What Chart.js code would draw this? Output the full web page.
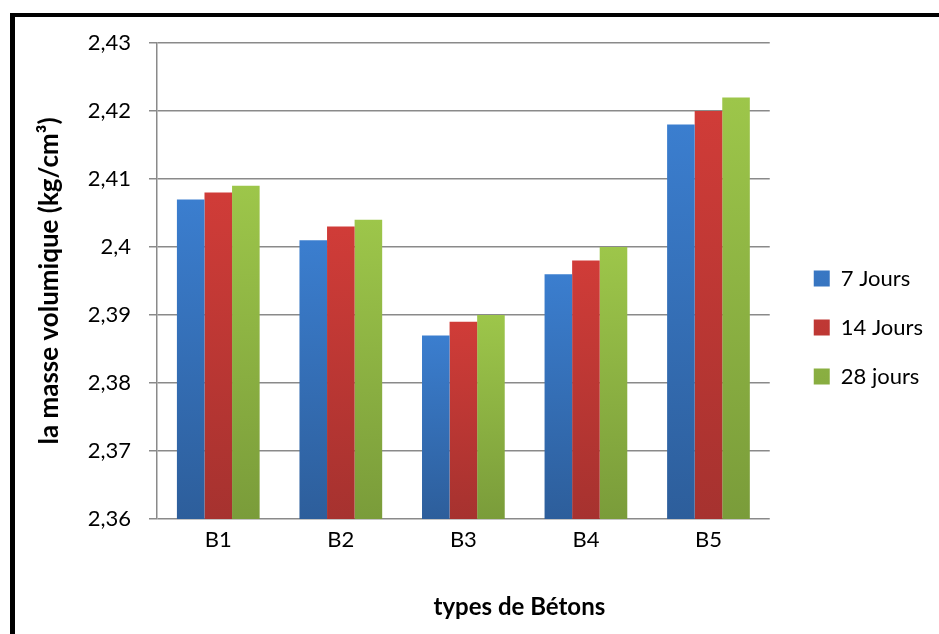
<!DOCTYPE html>
<html>
<head>
<meta charset="utf-8">
<script src="https://cdn.jsdelivr.net/npm/chart.js@4.4.1/dist/chart.umd.min.js"></script>
<style>
  html, body { margin: 0; padding: 0; background: #fff; overflow: hidden; }
  #frame { position: absolute; left: 10px; top: 13px; width: 960px; height: 660px;
           border-top: 4px solid #000; border-left: 5px solid #000; }
  #wrap  { position: absolute; left: 0; top: 0; width: 939px; height: 634px; }
</style>
</head>
<body>
<div id="frame"></div>
<div id="wrap"><canvas id="chart"></canvas></div>
<script>
// ─── Data ─────────────────────────────────────────────────────────────────────
const categories   = ['B1', 'B2', 'B3', 'B4', 'B5'];
const seriesLabels = ['7 Jours', '14 Jours', '28 jours'];
const jours7       = [2.407, 2.401, 2.387, 2.396, 2.418];
const jours14      = [2.408, 2.403, 2.389, 2.398, 2.420];
const jours28      = [2.409, 2.404, 2.390, 2.400, 2.422];
const yMin = 2.36, yMax = 2.43, yStep = 0.01;

// ─── Style ────────────────────────────────────────────────────────────────────
const GRID = '#8a8a8a';
Chart.defaults.font.family = 'Lato';
Chart.defaults.color = '#000';

// vertical gradient per bar, lighter at the top like the Excel fill
function barFill(top, bottom) {
  return c => {
    const { chart, raw } = c;
    const area = chart.chartArea;
    if (!area || raw == null) return top;
    const y = chart.scales.y.getPixelForValue(raw);
    if (!isFinite(y) || area.bottom - y < 1) return top;
    const g = chart.ctx.createLinearGradient(0, y, 0, area.bottom);
    g.addColorStop(0, top);
    g.addColorStop(1, bottom);
    return g;
  };
}

// legend sits a bit off from where Chart.js puts it, and the x title is
// centred under plot + legend rather than the plot alone (only widen to the
// right: moving the scale's left edge would clip the first bar)
const nudge = {
  id: 'nudge',
  afterLayout(chart) {
    const lg = chart.legend;
    lg.left += 17; lg.right += 17;
    lg.top -= 11;  lg.bottom -= 11;
    chart.scales.x.right += 112;
  }
};

const fmt = v => String(+(+v).toFixed(2)).replace('.', ',');

new Chart(document.getElementById('chart'), {
  type: 'bar',
  data: {
    labels: categories,
    datasets: [
      { label: seriesLabels[0], data: jours7,  backgroundColor: barFill('#3b7ecf', '#2d5e9b') },
      { label: seriesLabels[1], data: jours14, backgroundColor: barFill('#d03c38', '#a6322f') },
      { label: seriesLabels[2], data: jours28, backgroundColor: barFill('#9dc64a', '#7a9c3a') },
    ]
  },
  options: {
    responsive: true,
    maintainAspectRatio: false,
    animation: false,
    layout: { padding: { left: 20, top: 43, right: 23, bottom: 0 } },
    datasets: { bar: { categoryPercentage: 0.675, barPercentage: 1 } },
    plugins: {
      legend: {
        position: 'right',
        labels: { font: { size: 22 }, boxWidth: 16, boxHeight: 16, padding: 27, color: '#000' }
      },
      tooltip: { enabled: false }
    },
    scales: {
      x: {
        grid: { display: false, drawTicks: false },
        border: { display: false },
        ticks: { font: { size: 22 }, padding: 8 },
        title: { display: true, text: 'types de Bétons', font: { size: 24, weight: 'bold' },
                 padding: { top: 0, bottom: 12 } },
        afterFit: s => { s.height = 115; }
      },
      y: {
        min: yMin, max: yMax,
        grid: { color: GRID, lineWidth: 1.5, tickLength: 8 },
        border: { display: true, color: GRID, width: 1.5 },
        ticks: { stepSize: yStep, font: { size: 22 }, padding: 18, callback: fmt },
        title: { display: true, text: 'la masse volumique (kg/cm³)', font: { size: 26, weight: 'bold' },
                 padding: { top: 14, bottom: 0 } },
        afterFit: s => { s.width = 137; }
      }
    }
  },
  plugins: [nudge]
});
</script>
</body>
</html>
